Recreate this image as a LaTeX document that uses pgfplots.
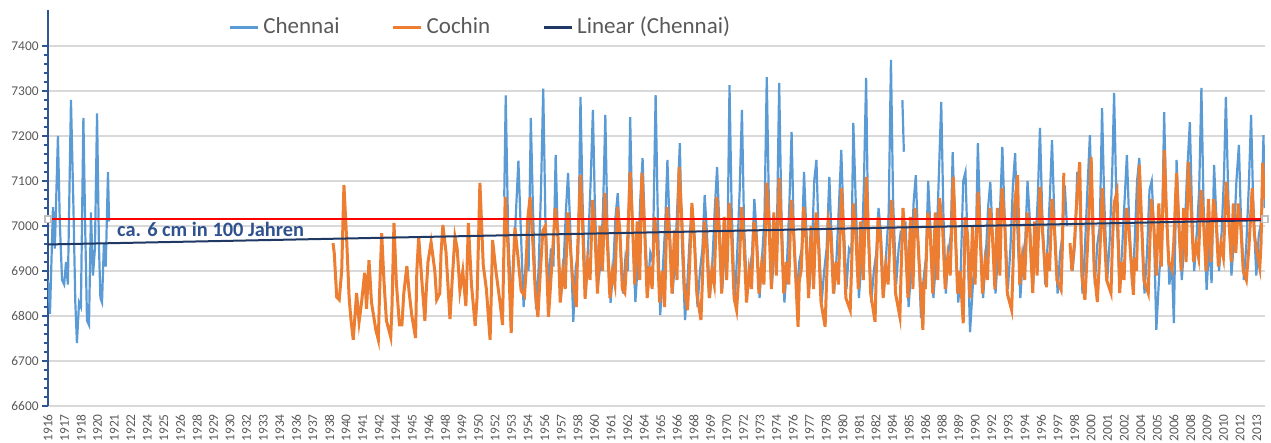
\documentclass[border=0pt]{standalone}
\usepackage{pgfplots}
\pgfplotsset{compat=1.18}
\usepackage{fontspec}
\setmainfont{Carlito}
\definecolor{chennai}{RGB}{91,155,213}
\definecolor{cochin}{RGB}{237,125,49}
\definecolor{trend}{RGB}{31,56,100}
\definecolor{annot}{RGB}{47,82,143}
\definecolor{axisblue}{RGB}{47,85,151}
\definecolor{gridgray}{RGB}{217,217,217}
\definecolor{txtgray}{RGB}{89,89,89}
\definecolor{refred}{RGB}{255,0,0}
\begin{document}
\begin{tikzpicture}
\begin{axis}[
  at={(0,0)}, anchor=south west,
  scale only axis, width=608.5pt, height=198pt,
  xmin=1916, xmax=2014, ymin=6600, ymax=7480,
  axis lines*=left,
  ytick={6600,6700,...,7400},
  minor y tick num=4,
  ymajorgrids, major grid style={draw=gridgray, line width=0.8pt},
  y axis line style={draw=axisblue, line width=0.8pt},
  x axis line style={draw=gridgray, line width=0.8pt},
  ytick style={draw=axisblue, line width=0.6pt},
  tick align=outside,
  major tick length=3pt, minor tick length=2pt,
  xtick={1916,1917.333,1918.667,1920,1921.333,1922.667,1924,1925.333,1926.667,1928,1929.333,1930.667,1932,1933.333,1934.667,1936,1937.333,1938.667,1940,1941.333,1942.667,1944,1945.333,1946.667,1948,1949.333,1950.667,1952,1953.333,1954.667,1956,1957.333,1958.667,1960,1961.333,1962.667,1964,1965.333,1966.667,1968,1969.333,1970.667,1972,1973.333,1974.667,1976,1977.333,1978.667,1980,1981.333,1982.667,1984,1985.333,1986.667,1988,1989.333,1990.667,1992,1993.333,1994.667,1996,1997.333,1998.667,2000,2001.333,2002.667,2004,2005.333,2006.667,2008,2009.333,2010.667,2012,2013.333},
  xticklabels={1916,1917,1918,1920,1921,1922,1924,1925,1926,1928,1929,1930,1932,1933,1934,1936,1937,1938,1940,1941,1942,1944,1945,1946,1948,1949,1950,1952,1953,1954,1956,1957,1958,1960,1961,1962,1964,1965,1966,1968,1969,1970,1972,1973,1974,1976,1977,1978,1980,1981,1982,1984,1985,1986,1988,1989,1990,1992,1993,1994,1996,1997,1998,2000,2001,2002,2004,2005,2006,2008,2009,2010,2012,2013},
  xtick style={draw=none},
  xticklabel style={rotate=90, anchor=east, font=\fontsize{6.7}{7}\selectfont, text=txtgray, inner sep=1pt},
  yticklabel style={font=\fontsize{6.7}{7}\selectfont, text=txtgray, inner sep=1.5pt},
  /pgf/number format/assume math mode=true,
  /pgf/number format/1000 sep={},
  unbounded coords=jump,
  legend style={at={(0.356,0.957)}, anchor=center, draw=none, fill=none,
    font=\fontsize{11.5}{13}\selectfont, text=txtgray, inner sep=0pt,
    /tikz/every even column/.append style={column sep=24pt}},
  legend columns=3,
  legend image code/.code={\draw[#1, line width=1.5pt] (0pt,0pt) -- (14pt,0pt);},
]
% Chennai
\addplot[chennai, line width=1.1pt] table {
1916.00 6880
1916.16 6805
1916.40 7042
1916.55 6950
1916.80 7200
1916.95 7010
1917.13 6880
1917.30 6870
1917.45 6920
1917.60 6870
1917.85 7280
1918.05 7040
1918.20 6830
1918.33 6740
1918.50 6830
1918.65 6820
1918.85 7240
1919.00 6990
1919.14 6790
1919.30 6780
1919.46 7030
1919.62 6890
1919.78 6950
1919.95 7250
1920.10 6960
1920.22 6840
1920.35 6830
1920.50 6960
1920.65 6910
1920.83 7120
1920.92 7010
1921.00 nan
1952.74 7065
1952.86 7290
1953.05 6990
1953.30 6830
1953.50 6920
1953.70 7040
1953.88 7145
1954.05 7010
1954.30 6820
1954.50 6940
1954.70 6900
1954.88 7240
1955.05 7040
1955.30 6815
1955.50 6900
1955.70 7080
1955.88 7305
1956.05 7020
1956.30 6860
1956.50 6950
1956.70 6910
1956.88 7158
1957.05 6980
1957.30 6840
1957.50 6900
1957.70 7030
1957.88 7118
1958.05 7000
1958.30 6787
1958.50 6910
1958.70 6940
1958.88 7287
1959.05 7050
1959.30 6850
1959.50 6960
1959.70 7100
1959.88 7258
1960.05 7030
1960.30 6870
1960.50 6920
1960.70 7040
1960.88 7247
1961.05 6990
1961.30 6829
1961.50 6900
1961.70 7020
1961.88 7073
1962.05 6980
1962.30 6850
1962.50 6930
1962.70 6900
1962.88 7242
1963.05 7010
1963.30 6831
1963.50 6920
1963.70 7060
1963.88 7151
1964.05 7000
1964.30 6860
1964.50 6940
1964.70 6920
1964.93 7291
1965.10 7030
1965.30 6802
1965.50 6900
1965.70 7000
1965.88 7147
1966.05 7000
1966.30 6850
1966.50 6930
1966.70 7060
1966.88 7184
1967.05 6960
1967.30 6791
1967.50 6880
1967.70 6990
1967.88 7042
1968.05 6980
1968.30 6820
1968.50 6900
1968.70 6950
1968.88 7069
1969.05 6990
1969.30 6840
1969.50 6920
1969.70 7040
1969.88 7131
1970.05 7010
1970.30 6860
1970.50 6950
1970.70 6920
1970.88 7313
1971.05 7040
1971.30 6830
1971.50 6940
1971.70 7080
1971.88 7258
1972.05 7000
1972.30 6850
1972.50 6900
1972.70 6940
1972.88 7060
1973.05 6990
1973.30 6840
1973.50 6930
1973.70 7020
1973.88 7331
1974.05 7050
1974.30 6870
1974.50 6950
1974.70 6990
1974.88 7318
1975.05 7040
1975.30 6830
1975.50 6910
1975.70 7050
1975.88 7209
1976.05 6990
1976.30 6850
1976.50 6920
1976.70 6950
1976.88 7120
1977.05 7000
1977.30 6860
1977.50 6930
1977.70 7100
1977.88 7147
1978.05 6980
1978.30 6830
1978.50 6900
1978.70 6950
1978.92 7109
1979.05 7010
1979.30 6850
1979.50 6930
1979.70 7050
1979.88 7169
1980.05 7020
1980.30 6860
1980.50 6950
1980.70 6940
1980.85 7229
1981.05 7050
1981.30 6840
1981.50 6920
1981.70 7090
1981.88 7329
1982.05 6980
1982.30 6830
1982.50 6900
1982.70 6940
1982.88 7040
1983.05 6990
1983.30 6850
1983.50 6940
1983.70 7030
1983.88 7369
1984.05 7060
1984.30 6870
1984.50 6950
1984.68 6990
1984.74 nan
1984.80 7280
1984.92 7165
1984.98 nan
1985.05 7010
1985.30 6820
1985.50 6900
1985.70 7050
1985.88 7113
1986.05 6980
1986.30 6796
1986.50 6880
1986.70 6930
1986.88 7100
1987.05 7000
1987.30 6840
1987.50 6920
1987.70 7080
1987.93 7276
1988.10 7030
1988.30 6850
1988.50 6940
1988.70 6980
1988.85 7164
1989.05 6990
1989.30 6830
1989.50 6900
1989.70 7100
1989.88 7120
1990.05 6960
1990.25 6764
1990.50 6880
1990.70 6940
1990.88 7184
1991.05 7020
1991.30 6840
1991.50 6920
1991.70 7040
1991.88 7098
1992.05 6990
1992.30 6850
1992.50 6940
1992.70 7060
1992.85 7176
1993.05 7010
1993.30 6860
1993.50 6950
1993.70 7090
1993.88 7162
1994.05 7000
1994.30 6840
1994.50 6930
1994.70 6970
1994.88 7100
1995.05 7020
1995.30 6860
1995.50 6950
1995.70 7060
1995.88 7218
1996.05 7040
1996.30 6870
1996.50 6960
1996.70 7080
1996.85 7191
1997.05 7010
1997.30 6850
1997.50 6940
1997.70 6980
1997.88 7090
1998.05 7000
1998.25 nan
1998.50 6900
1998.70 6960
1998.88 7120
1999.08 7058
1999.30 6850
1999.50 6950
1999.70 7080
1999.90 7202
2000.05 7040
2000.30 6870
2000.50 6960
2000.70 7000
2000.88 7262
2001.05 7060
2001.30 6880
2001.50 6970
2001.70 7120
2001.85 7296
2002.05 7030
2002.30 6860
2002.50 6950
2002.70 7060
2002.88 7158
2003.05 7020
2003.30 6870
2003.50 6960
2003.70 7100
2003.88 7151
2004.05 7010
2004.30 6850
2004.50 6940
2004.70 7080
2004.88 7100
2005.05 7000
2005.25 6769
2005.50 6900
2005.70 6960
2005.88 7253
2006.05 7040
2006.30 6870
2006.50 6920
2006.66 6784
2006.88 7147
2007.05 7020
2007.30 6880
2007.50 6960
2007.70 7100
2007.95 7231
2008.10 7060
2008.30 6900
2008.50 6980
2008.70 7080
2008.88 7307
2009.05 7050
2009.30 6858
2009.50 6960
2009.70 6873
2009.90 7136
2010.05 7040
2010.30 6900
2010.50 6980
2010.70 7110
2010.85 7287
2011.05 7060
2011.30 6890
2011.50 6970
2011.70 7100
2011.90 7180
2012.05 7030
2012.30 6880
2012.50 6960
2012.70 7090
2012.88 7247
2013.05 7050
2013.30 6890
2013.50 6980
2013.70 7010
2013.88 7202
2013.97 7040
};
\addlegendentry{Chennai}
% Cochin
\addplot[cochin, line width=1.5pt] table {
1938.95 6962
1939.05 6940
1939.25 6842
1939.45 6836
1939.65 6900
1939.83 7091
1940.05 6970
1940.25 6840
1940.40 6791
1940.58 6747
1940.85 6851
1941.05 6787
1941.25 6830
1941.50 6896
1941.65 6816
1941.85 6924
1942.05 6830
1942.40 6769
1942.60 6747
1942.70 6850
1942.87 6984
1943.05 6880
1943.25 6790
1943.60 6753
1943.70 6820
1943.86 7007
1944.05 6875
1944.30 6780
1944.50 6780
1944.65 6850
1944.90 6911
1945.07 6856
1945.30 6800
1945.60 6751
1945.70 6900
1945.85 6976
1946.10 6880
1946.35 6789
1946.45 6850
1946.60 6920
1946.85 6964
1947.15 6900
1947.30 6836
1947.55 6850
1947.65 6940
1947.80 7002
1948.05 6942
1948.37 6793
1948.55 6880
1948.77 6976
1948.95 6950
1949.17 6856
1949.40 6900
1949.65 6822
1949.72 6880
1949.85 7007
1950.10 6870
1950.40 6778
1950.55 6840
1950.65 6950
1950.78 7096
1951.05 6913
1951.30 6860
1951.60 6747
1951.70 6850
1951.80 6969
1952.07 6900
1952.40 6830
1952.60 6780
1952.70 6930
1952.82 7064
1953.05 6950
1953.30 6762
1953.45 6900
1953.60 6996
1953.85 6930
1954.10 6856
1954.37 6845
1954.50 6900
1954.62 7013
1954.82 7064
1955.05 6960
1955.25 6850
1955.45 6798
1955.65 6900
1955.85 6990
1956.05 7000
1956.30 6798
1956.45 6860
1956.65 6950
1956.85 7040
1957.05 6990
1957.25 6830
1957.45 6900
1957.65 6860
1957.85 7030
1958.05 6960
1958.25 6880
1958.55 6820
1958.65 6950
1958.88 7113
1959.05 7000
1959.25 6838
1959.45 6920
1959.65 6880
1959.85 7058
1960.05 6980
1960.25 6850
1960.45 7000
1960.65 6900
1960.85 7073
1961.05 6960
1961.25 6840
1961.45 6900
1961.65 6870
1961.85 7042
1962.05 6990
1962.25 6860
1962.45 6851
1962.65 6950
1962.88 7120
1963.05 7020
1963.25 6870
1963.45 7010
1963.65 6880
1963.82 7118
1964.05 6990
1964.25 6840
1964.45 6910
1964.65 6860
1964.85 7020
1965.05 6970
1965.25 6830
1965.45 6900
1965.65 6820
1965.85 7042
1966.05 6980
1966.25 6850
1966.45 6990
1966.65 6880
1966.82 7131
1967.05 7010
1967.25 6860
1967.50 6813
1967.65 6900
1967.85 7051
1968.05 6970
1968.25 6850
1968.58 6791
1968.70 6880
1968.85 7010
1969.05 6950
1969.25 6840
1969.45 6900
1969.65 6870
1969.85 7064
1970.05 6990
1970.25 6850
1970.45 7020
1970.65 6880
1970.85 7051
1971.05 6980
1971.25 6840
1971.45 6813
1971.65 6900
1971.85 7042
1972.05 6960
1972.25 6830
1972.45 6900
1972.65 6860
1972.85 7010
1973.05 6970
1973.25 6850
1973.45 6910
1973.65 6870
1973.88 7096
1974.05 7010
1974.25 6860
1974.45 7030
1974.65 6890
1974.88 7107
1975.05 7000
1975.25 6850
1975.45 6920
1975.65 6870
1975.85 7058
1976.05 6980
1976.40 6776
1976.50 6880
1976.65 6900
1976.85 7042
1977.05 6970
1977.25 6840
1977.45 7000
1977.65 6860
1977.85 7030
1978.05 6960
1978.25 6830
1978.58 6776
1978.70 6880
1978.85 7010
1979.05 6980
1979.25 6850
1979.45 6920
1979.65 6870
1979.90 7084
1980.05 6990
1980.25 6840
1980.60 6813
1980.70 6900
1980.85 7050
1981.05 6980
1981.25 6860
1981.45 7010
1981.65 6880
1981.90 7109
1982.05 7000
1982.25 6850
1982.60 6787
1982.70 6900
1982.85 7020
1983.05 6970
1983.25 6840
1983.45 6910
1983.65 6870
1983.93 7058
1984.05 6990
1984.25 6850
1984.60 6798
1984.70 6900
1984.85 7040
1985.05 6960
1985.25 6840
1985.45 7020
1985.65 6860
1985.82 7040
1986.05 6970
1986.45 6769
1986.55 6880
1986.65 6860
1986.85 7030
1987.05 6980
1987.25 6850
1987.45 7030
1987.65 6880
1987.80 7062
1988.05 6990
1988.25 6860
1988.45 6930
1988.65 6890
1988.90 7109
1989.05 7000
1989.25 6850
1989.45 6900
1989.70 6784
1989.85 7020
1990.05 6980
1990.25 6840
1990.45 7000
1990.65 6870
1990.90 7076
1991.05 6990
1991.25 6850
1991.45 6920
1991.65 6880
1991.85 7040
1992.05 6980
1992.25 6860
1992.45 7040
1992.65 6890
1992.82 7084
1993.05 7000
1993.25 6850
1993.60 6813
1993.70 6900
1993.85 7050
1994.08 7113
1994.25 6870
1994.45 6930
1994.65 6880
1994.85 7030
1995.05 6990
1995.30 6851
1995.45 7010
1995.65 6890
1995.88 7087
1996.05 7000
1996.40 6864
1996.50 6940
1996.65 6900
1996.85 7060
1997.05 6990
1997.25 6880
1997.58 6858
1997.68 6950
1997.80 7118
1997.95 nan
1998.30 6962
1998.45 6900
1998.65 6960
1998.85 7060
1999.08 7142
1999.25 6890
1999.50 6836
1999.65 6920
1999.85 7040
2000.00 7153
2000.25 6900
2000.50 6831
2000.70 6940
2000.90 7084
2001.05 6990
2001.25 6880
2001.60 6851
2001.70 6950
2001.85 7050
2002.08 7076
2002.30 6851
2002.45 6920
2002.65 6880
2002.85 7040
2003.05 6990
2003.40 6847
2003.50 6930
2003.65 6900
2003.88 7136
2004.05 7020
2004.25 6880
2004.60 6851
2004.70 6940
2004.85 7060
2005.05 7000
2005.25 6890
2005.45 7050
2005.65 6910
2005.90 7169
2006.05 7040
2006.25 6920
2006.50 6902
2006.65 6960
2006.88 7118
2007.05 7010
2007.25 6900
2007.45 7040
2007.65 6920
2007.82 7142
2008.05 7040
2008.25 6920
2008.45 6960
2008.65 6930
2008.85 7080
2009.05 7010
2009.25 6900
2009.45 7060
2009.65 6920
2009.85 7060
2010.05 7020
2010.25 6910
2010.45 6960
2010.65 6930
2010.88 7098
2011.05 7030
2011.30 6920
2011.45 7050
2011.65 6940
2011.85 7050
2012.05 7000
2012.25 6900
2012.50 6880
2012.70 6950
2012.97 7084
2013.15 6980
2013.30 6950
2013.58 6907
2013.68 6960
2013.82 7140
2013.95 7060
};
\addlegendentry{Cochin}
% linear trend
\addplot[trend, line width=1pt] coordinates {(1916,6959) (2014,7013)};
\addlegendentry{Linear (Chennai)}
% reference level
\addplot[draw=refred, line width=0.8pt, mark=square*, mark size=1.6pt, mark options={fill=white, draw=gray!50}, forget plot] coordinates {(1916,7015) (2014,7015)};
\node[font=\bfseries\fontsize{10.2}{12}\selectfont, text=annot] at (axis cs:1929.1,6993) {ca. 6 cm in 100 Jahren};
\end{axis}
\pgfresetboundingbox
\useasboundingbox (-24pt,-18.5pt) rectangle (611.5pt,203pt);
\end{tikzpicture}
\end{document}
